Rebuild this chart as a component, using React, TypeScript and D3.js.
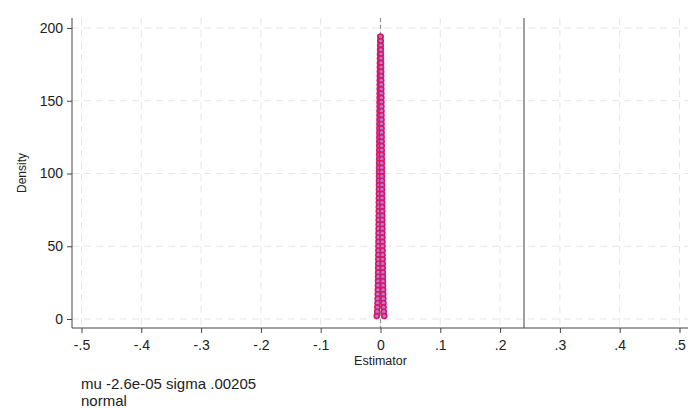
import React, { useEffect, useRef } from 'react';
import * as d3 from 'd3';

// normal density points: density levels and the estimator on each side
const densityLevels = [
  194, 191, 188, 185, 182, 179, 176, 173, 170, 167, 164, 161, 158, 155, 152, 149, 146,
  143, 140, 137, 134, 131, 128, 125, 122, 119, 116, 113, 110, 107, 104, 101, 98, 95,
  92, 89, 86, 83, 80, 77, 74, 71, 68, 65, 62, 59, 56, 53, 50, 47, 44, 41, 38, 35,
  32, 29, 26, 23, 20, 17, 14, 11, 8, 5, 2,
];
const estimatorRight = [
  0.00016, 0.0004, 0.00054, 0.00065, 0.00075, 0.00084, 0.00092, 0.00099, 0.00107, 0.00113,
  0.0012, 0.00126, 0.00132, 0.00138, 0.00144, 0.0015, 0.00155, 0.00161, 0.00166, 0.00172,
  0.00177, 0.00182, 0.00188, 0.00193, 0.00198, 0.00203, 0.00209, 0.00214, 0.00219, 0.00224,
  0.0023, 0.00235, 0.0024, 0.00246, 0.00251, 0.00256, 0.00262, 0.00268, 0.00273, 0.00279,
  0.00285, 0.00291, 0.00297, 0.00304, 0.0031, 0.00317, 0.00324, 0.00331, 0.00338, 0.00346,
  0.00353, 0.00362, 0.0037, 0.0038, 0.0039, 0.004, 0.00411, 0.00424, 0.00437, 0.00453,
  0.0047, 0.00491, 0.00518, 0.00555, 0.0062,
];
const estimatorLeft = [
  -0.00021, -0.00045, -0.00059, -0.0007, -0.0008, -0.00089, -0.00097, -0.00104, -0.00112, -0.00118,
  -0.00125, -0.00131, -0.00137, -0.00143, -0.00149, -0.00155, -0.0016, -0.00166, -0.00171, -0.00177,
  -0.00182, -0.00187, -0.00193, -0.00198, -0.00203, -0.00208, -0.00214, -0.00219, -0.00224, -0.00229,
  -0.00235, -0.0024, -0.00245, -0.00251, -0.00256, -0.00261, -0.00267, -0.00273, -0.00278, -0.00284,
  -0.0029, -0.00296, -0.00302, -0.00309, -0.00315, -0.00322, -0.00329, -0.00336, -0.00343, -0.00351,
  -0.00358, -0.00367, -0.00375, -0.00385, -0.00395, -0.00405, -0.00416, -0.00429, -0.00442, -0.00458,
  -0.00475, -0.00496, -0.00523, -0.0056, -0.00625,
];
const xTicks = [-0.5, -0.4, -0.3, -0.2, -0.1, 0, 0.1, 0.2, 0.3, 0.4, 0.5];
const yTicks = [0, 50, 100, 150, 200];
const refLine = 0.24;
const noteLines = ['mu -2.6e-05 sigma .00205', 'normal'];

const fmtX = (d: number) => (d === 0 ? '0' : d3.format('.1f')(d).replace('0.', '.').replace('−', '-'));

export default function App() {
  const svgRef = useRef<SVGSVGElement>(null);

  useEffect(() => {
    const svg = d3.select(svgRef.current);
    svg.selectAll('*').remove();
    const font = 'Liberation Sans, Arial, sans-serif';

    const x = d3.scaleLinear().domain([-0.5, 0.5]).range([81.5, 679.5]);
    const y = d3.scaleLinear().domain([0, 200]).range([319, 28]);
    const left = 72, right = 688, top = 18, bottom = 328;

    // grid
    const grid = svg.append('g').attr('stroke', '#e6e6e6').attr('stroke-width', 1).attr('stroke-dasharray', '7,5');
    grid.selectAll('line.h').data(yTicks).join('line').attr('class', 'h')
      .attr('x1', left).attr('x2', right).attr('y1', d => y(d)).attr('y2', d => y(d));
    grid.selectAll('line.v').data(xTicks).join('line').attr('class', 'v')
      .attr('x1', d => x(d)).attr('x2', d => x(d)).attr('y1', top).attr('y2', bottom);

    // reference lines
    svg.append('line').attr('x1', x(0)).attr('x2', x(0)).attr('y1', top).attr('y2', bottom)
      .attr('stroke', '#999').attr('stroke-width', 1.3).attr('stroke-dasharray', '4,3');
    svg.append('line').attr('x1', x(refLine)).attr('x2', x(refLine)).attr('y1', top).attr('y2', bottom)
      .attr('stroke', '#6e6e6e').attr('stroke-width', 1.3);

    // points
    const pts = densityLevels.flatMap((d, i) => [
      { e: estimatorLeft[i], d },
      { e: estimatorRight[i], d },
    ]);
    svg.append('g').selectAll('circle').data(pts).join('circle')
      .attr('cx', d => x(d.e)).attr('cy', d => y(d.d)).attr('r', 2.5)
      .attr('fill', '#b07fd0').attr('stroke', '#d8176a').attr('stroke-width', 1.6);

    // axes
    svg.append('g').attr('transform', `translate(0,${bottom})`)
      .call(d3.axisBottom(x).tickValues(xTicks).tickFormat(d => fmtX(+d)).tickSize(5).tickSizeOuter(0))
      .call(g => g.select('.domain').attr('d', `M${left},0H${right}`).attr('stroke', '#444'))
      .call(g => g.selectAll('line').attr('stroke', '#444'))
      .selectAll('text').attr('fill', '#222').style('font-family', font).style('font-size', '14px').attr('dy', '1.0em');

    svg.append('g').attr('transform', `translate(${left},0)`)
      .call(d3.axisLeft(y).tickValues(yTicks).tickSize(5).tickSizeOuter(0))
      .call(g => g.select('.domain').attr('d', `M0,${top}V${bottom}`).attr('stroke', '#444'))
      .call(g => g.selectAll('line').attr('stroke', '#444'))
      .selectAll('text').attr('fill', '#222').style('font-family', font).style('font-size', '14px').attr('x', -9);

    // titles
    svg.append('text').attr('x', x(0)).attr('y', 365).attr('text-anchor', 'middle')
      .style('font-family', font).style('font-size', '12.5px').attr('fill', '#222').text('Estimator');
    svg.append('text').attr('transform', 'translate(26,173) rotate(-90)').attr('text-anchor', 'middle')
      .style('font-family', font).style('font-size', '12px').attr('fill', '#222').text('Density');

    svg.append('g').selectAll('text').data(noteLines).join('text')
      .attr('x', 81).attr('y', (d, i) => 389 + i * 17)
      .style('font-family', font).style('font-size', '15px').attr('fill', '#222').text(d => d);
  }, []);

  return (
    <svg ref={svgRef} width={691} height={408} viewBox="0 0 691 408"
      style={{ position: 'absolute', left: 0, top: 0, background: '#fff' }} />
  );
}
